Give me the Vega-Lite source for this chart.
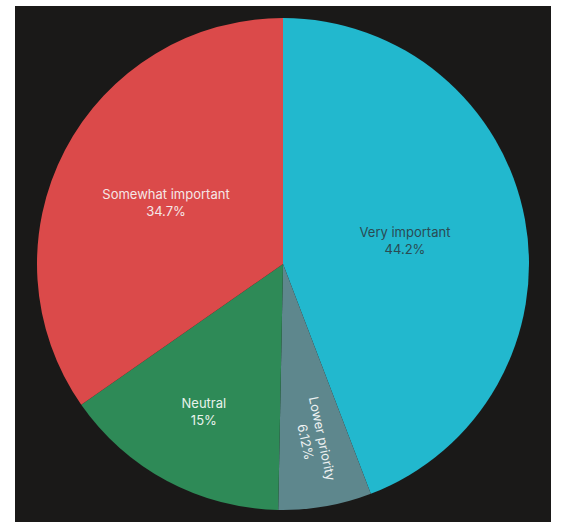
{
  "$schema": "https://vega.github.io/schema/vega-lite/v6.json",
  "width": 536,
  "height": 516,
  "autosize": {"type": "none"},
  "padding": {"left": 15, "top": 6, "right": 14, "bottom": 3},
  "background": "#ffffff",
  "view": {"fill": "#1a1918", "stroke": null},
  "config": {"font": "Inter"},
  "data": {
    "values": [
      {"category": "Very important", "value": 44.2, "order": 1},
      {"category": "Lower priority", "value": 6.12, "order": 2},
      {"category": "Neutral", "value": 15, "order": 3},
      {"category": "Somewhat important", "value": 34.7, "order": 4}
    ]
  },
  "transform": [
    {"calculate": "datum.category + '\\n' + format(datum.value, '.3~') + '%'", "as": "label"}
  ],
  "encoding": {
    "theta": {"field": "value", "type": "quantitative", "stack": true},
    "order": {"field": "order", "type": "quantitative"}
  },
  "layer": [
    {
      "mark": {"type": "arc", "outerRadius": 246},
      "encoding": {
        "color": {
          "field": "category",
          "type": "nominal",
          "scale": {
            "domain": ["Very important", "Lower priority", "Neutral", "Somewhat important"],
            "range": ["#22b8ce", "#5e878d", "#2e8a57", "#db4a4a"]
          },
          "legend": null
        }
      }
    },
    {
      "mark": {"type": "text", "radius": 124, "dy": -8, "fontSize": 13, "lineBreak": "\n", "lineHeight": 17, "color": "#2a4b53"},
      "encoding": {
        "text": {"condition": {"test": "datum.category === 'Very important'", "field": "label"}, "value": ""}
      }
    },
    {
      "mark": {"type": "text", "radius": 132, "dy": -8, "fontSize": 13, "lineBreak": "\n", "lineHeight": 17, "color": "#f5e6e6"},
      "encoding": {
        "text": {"condition": {"test": "datum.category === 'Somewhat important'", "field": "label"}, "value": ""}
      }
    },
    {
      "mark": {"type": "text", "radius": 168, "dy": -8, "fontSize": 13, "lineBreak": "\n", "lineHeight": 17, "color": "#e8f2ec"},
      "encoding": {
        "text": {"condition": {"test": "datum.category === 'Neutral'", "field": "label"}, "value": ""}
      }
    },
    {
      "mark": {"type": "text", "radius": 179, "dy": -8, "fontSize": 13, "lineBreak": "\n", "lineHeight": 17, "angle": 78, "color": "#eef2f2"},
      "encoding": {
        "text": {"condition": {"test": "datum.category === 'Lower priority'", "field": "label"}, "value": ""}
      }
    }
  ]
}
